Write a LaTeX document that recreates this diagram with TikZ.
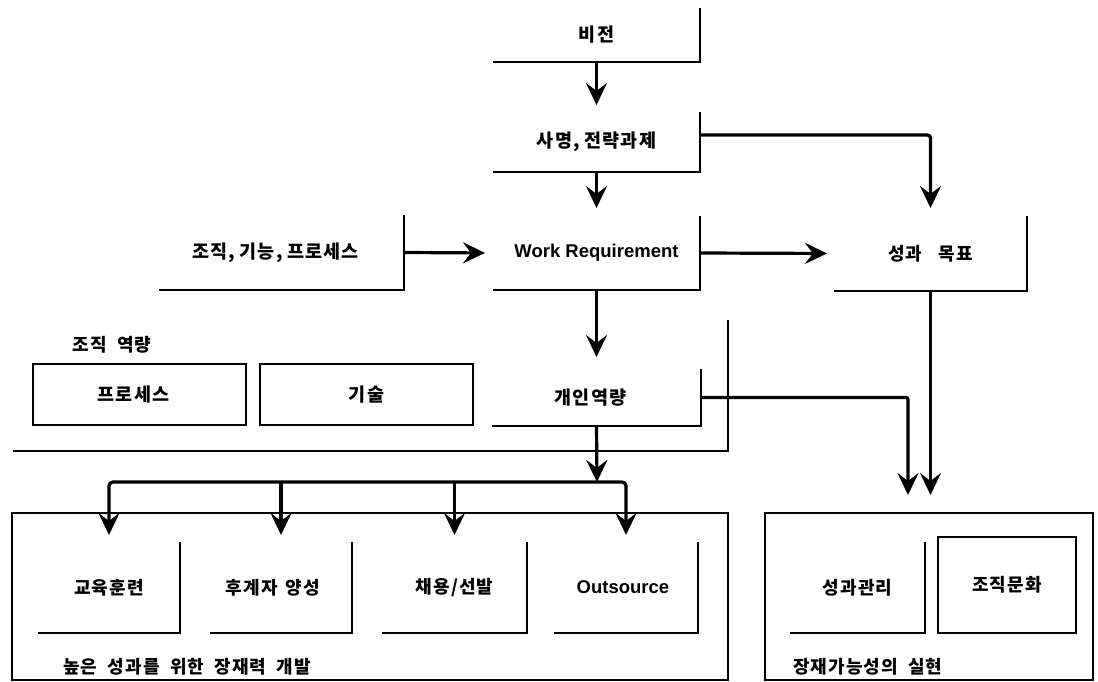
\documentclass[tikz,border=0pt]{standalone}
\usepackage{fontspec}
\setmainfont{Liberation Sans}
\newfontfamily\kr{Noto Sans CJK KR}[LetterSpace=6,WordSpace=2]
\usetikzlibrary{arrows.meta,calc}
\tikzset{
  kt/.style={font=\kr\bfseries\fontsize{18.5}{22}\selectfont},
  ks/.style={font=\kr\bfseries\fontsize{18}{21}\selectfont},
  et/.style={font=\bfseries\fontsize{18.5}{22}\selectfont},
  lbox/.style={inner sep=0pt, outer sep=0pt},
  arr/.style={line width=3.2pt, -{Stealth[length=22pt,width=21pt,inset=8pt]}},
  lline/.style={line width=1.6pt},
  frm/.style={draw, line width=2.4pt, inner sep=0pt, outer sep=0pt}
}
\begin{document}
\begin{tikzpicture}[x=1pt,y=-1pt]
\useasboundingbox (0,0) rectangle (1098,682);
% top column
\node[lbox,kt,minimum width=207pt,minimum height=54pt] (vision) at (596.5,35) {비전};
\node[lbox,kt,minimum width=207pt,minimum height=60pt] (mission) at (596.5,142) {사명,\hspace{5pt}전략과제};
\node[lbox,kt,minimum width=245pt,minimum height=75pt] (org) at (281.5,252.5) {\hspace{-12pt}조직,\hspace{5pt}기능,\hspace{5pt}프로세스};
\node[lbox,et,minimum width=207pt,minimum height=74pt] (wr) at (596.5,253) {Work Requirement};
\node[lbox,ks,minimum width=193pt,minimum height=75pt] (goal) at (930.5,253.5) {성과\hspace{16pt}목표};
\node[lbox,kt,minimum width=209pt,minimum height=57pt] (indiv) at (596.5,397.5) {\hspace{-12pt}개인역량};
\node[lbox,minimum width=715pt,minimum height=131pt] (iframe) at (370.5,385.5) {};
% organisational capability
\node[ks] (orgcap) at (112,345) {조직 역량};
\node[frm,kt,minimum width=213pt,minimum height=61pt] (proc) at (139.5,394.5) {\hspace{-12pt}프로세스};
\node[frm,kt,minimum width=213pt,minimum height=61pt] (tech) at (366.5,394.5) {기술};
% bottom boxes
\node[frm,minimum width=716pt,minimum height=167pt] (lbig) at (370,596.5) {};
\node[frm,minimum width=328pt,minimum height=167pt] (rbig) at (929,596.5) {};
\node[lbox,ks,minimum width=142pt,minimum height=91pt] (edu) at (109,587.5) {교육훈련};
\node[lbox,ks,minimum width=142pt,minimum height=91pt] (succ) at (281,587.5) {\hspace{-16pt}후계자\hspace{8pt}양성};
\node[lbox,ks,minimum width=145pt,minimum height=91pt] (hire) at (454.5,587.5) {채용/선발};
\node[lbox,et,minimum width=144pt,minimum height=91pt] (outs) at (626,587.5) {\hspace{-6pt}Outsource};
\node[lbox,ks,minimum width=135pt,minimum height=91pt] (perf) at (857.5,587.5) {성과관리};
\node[frm,ks,minimum width=138pt,minimum height=96pt] (cult) at (1007,585) {조직문화};
\node[ks,anchor=west,inner sep=0pt] (cap1) at (63,667) {높은 성과를 위한 장재력 개발};
\node[ks,anchor=west,inner sep=0pt] (cap2) at (793,667) {장재가능성의 실현};
% L-shaped box outlines
\foreach \n in {vision,mission,org,wr,goal,indiv,iframe,edu,succ,hire,outs,perf}
  \draw[lline] (\n.south west) -- (\n.south east) -- (\n.north east);
% connectors
\draw[arr,shorten >=7pt] (vision.south) -- (mission.north);
\draw[arr,shorten >=8pt] (mission.south) -- (wr.north);
\draw[arr,shorten >=8pt,rounded corners=3pt] ([yshift=7pt]mission.east) -| (goal.north);
\draw[arr,shorten >=8pt] (org.east) -- (wr.west);
\draw[arr,shorten >=7pt] (wr.east) -- (goal.west);
\draw[arr,shorten >=12pt] (wr.south) -- (indiv.north);
\coordinate (bus) at (597,482);
\draw[arr] (indiv.south) -- (bus);
\draw[arr,shorten >=7pt,rounded corners=4pt] (bus) -| (edu.north);
\draw[arr,shorten >=7pt,rounded corners=4pt] (bus) -| (outs.north);
\draw[arr,shorten >=7pt] (succ.north |- bus) -- (succ.north);
\draw[arr,shorten >=7pt] (hire.north |- bus) -- (hire.north);
\draw[arr,shorten >=18pt,rounded corners=2pt] (indiv.east) -| ([xshift=-21pt]rbig.north);
\draw[arr,shorten >=18pt] (goal.south) -- (goal.south |- rbig.north);
\end{tikzpicture}
\end{document}
